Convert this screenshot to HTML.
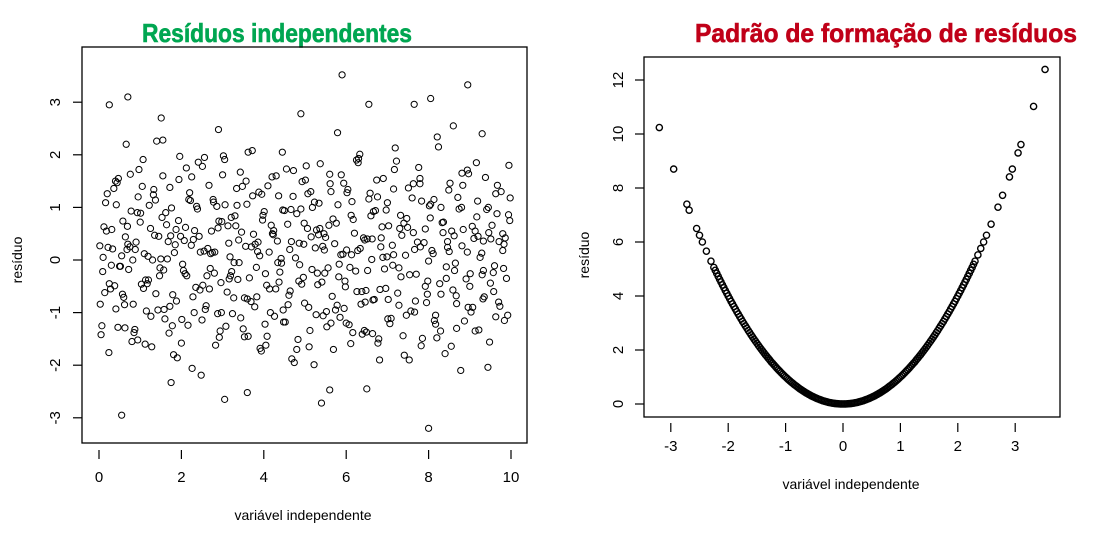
<!DOCTYPE html>
<html><head><meta charset="utf-8"><style>
body{margin:0;background:#fff;width:1106px;height:533px;overflow:hidden}
svg{display:block}
text{font-family:"Liberation Sans",sans-serif}
</style></head><body>
<svg id="c" width="1106" height="533">
<text x="277" y="42" text-anchor="middle" font-size="26" font-weight="bold" fill="#00a651" stroke="#00a651" stroke-width="0.6" textLength="270" lengthAdjust="spacingAndGlyphs">Resíduos independentes</text>
<text x="886" y="42" text-anchor="middle" font-size="26" font-weight="bold" fill="#c00018" stroke="#c00018" stroke-width="0.6" textLength="382" lengthAdjust="spacingAndGlyphs">Padrão de formação de resíduos</text>
</svg>
<script>
const leftX=[0.05,0.12,0.2,0.28,0.33,0.41,0.47,0.55,0.6,0.66,0.72,0.78,0.85,0.9,0.97,1.03,1.1,1.15,1.22,1.28,1.35,1.4,1.47,1.53,1.6,1.66,1.72,1.79,1.85,1.9,1.96,2.03,2.1,2.16,2.22,2.29,2.35,2.41,2.48,2.55,2.6,2.67,2.73,2.8,2.86,2.92,2.98,3.05,3.11,3.18,3.24,3.3,3.37,3.43,3.5,3.56,3.62,3.69,3.75,3.82,3.88,3.94,4.01,4.07,4.13,4.2,4.26,4.33,4.39,4.45,4.52,4.58,4.64,4.71,4.77,4.83,4.9,4.96,5.03,5.09,5.15,5.22,5.28,5.34,5.41,5.47,5.53,5.6,5.66,5.72,5.79,5.85,5.92,5.98,6.04,6.11,6.17,6.23,6.3,6.36,6.42,6.49,6.55,6.62,6.68,6.74,6.81,6.87,6.93,7.0,7.06,7.12,7.19,7.25,7.32,7.38,7.44,7.51,7.57,7.63,7.7,7.76,7.82,7.89,7.95,8.02,8.08,8.14,8.21,8.27,8.33,8.4,8.46,8.52,8.59,8.65,8.71,8.78,8.84,8.91,8.97,9.03,9.1,9.16,9.22,9.29,9.35,9.41,9.48,9.54,9.6,9.67,9.73,9.8,9.86,9.92,
0.02,0.09,0.16,0.24,0.31,0.38,0.44,0.52,0.58,0.63,0.7,0.76,0.83,0.88,0.94,1.01,1.07,1.13,1.19,1.26,1.32,1.38,1.45,1.51,1.57,1.64,1.7,1.76,1.83,1.88,1.94,2.01,2.07,2.13,2.2,2.26,2.32,2.39,2.45,2.51,2.58,2.64,2.7,2.77,2.83,2.89,2.96,3.02,3.08,3.15,3.21,3.27,3.34,3.4,3.46,3.53,3.59,3.65,3.72,3.78,3.85,3.91,3.97,4.04,4.1,4.16,4.23,4.29,4.36,4.42,4.48,4.55,4.61,4.67,4.74,4.8,4.87,4.93,4.99,5.06,5.12,5.18,5.25,5.31,5.37,5.44,5.5,5.56,5.63,5.69,5.76,5.82,5.88,5.95,6.01,6.07,6.14,6.2,6.26,6.33,6.39,6.45,6.52,6.58,6.65,6.71,6.77,6.84,6.9,6.96,7.03,7.09,7.15,7.22,7.28,7.35,7.41,7.47,7.54,7.6,7.66,7.73,7.79,7.85,7.92,7.98,8.05,8.11,8.17,8.24,8.3,8.36,8.43,8.49,8.55,8.62,8.68,8.74,8.81,8.87,8.94,9.0,9.06,9.13,9.19,9.25,9.32,9.38,9.44,9.51,9.57,9.63,9.7,9.76,9.83,9.89,9.95,
0.07,0.18,0.3,0.42,0.57,0.68,0.8,0.93,1.05,1.17,1.3,1.43,1.55,1.68,1.81,1.93,2.05,2.18,2.31,2.43,2.56,2.68,2.81,2.94,3.06,3.19,3.32,3.44,3.57,3.7,3.83,3.95,4.08,4.21,4.34,4.46,4.59,4.72,4.85,4.97,5.1,5.23,5.36,5.48,5.61,5.74,5.87,6.0,6.12,6.25,6.38,6.51,6.64,6.76,6.89,7.02,7.15,7.28,7.4,7.53,7.66,7.79,7.92,8.04,8.17,8.3,8.43,8.56,8.68,8.81,8.94,9.07,9.2,9.33,9.45,9.58,9.71,9.84,9.97,
0.1,0.25,0.4,0.62,0.75,0.95,1.12,1.25,1.48,1.62,1.78,1.98,2.12,2.28,2.46,2.62,2.78,2.97,3.13,3.28,3.48,3.62,3.79,3.98,4.14,4.3,4.47,4.63,4.8,4.98,5.14,5.3,5.46,5.63,5.8,5.97,6.13,6.29,6.46,6.63,6.79,6.97,7.13,7.3,7.46,7.63,7.8,7.97,8.13,8.29,8.46,8.63,8.8,8.96,9.13,9.3,9.46,9.63,9.8,9.94,
0.14,0.36,0.5,0.64,0.87,1.0,1.2,1.37,1.5,1.72,1.87,2.0,2.24,2.37,2.52,2.71,2.88,3.0,3.22,3.39,3.53,3.73,3.9,4.03,4.18,4.37,4.5,4.68,4.86,5.01,5.17,5.33,5.52,5.68,5.83,6.02,6.16,6.34,6.48,6.66,6.85,7.01,7.17,7.33,7.49,7.68,7.83,8.0,8.2,8.35,8.5,8.67,8.83,9.01,9.17,9.33,9.5,9.66,9.82,9.98,
0.03,0.22,0.46,0.69,0.82,1.08,1.33,1.58,1.74,2.09,2.25,2.5,2.75,2.91,3.16,3.35,3.6,3.86,4.05,4.24,4.43,4.66,4.92,5.07,5.27,5.43,5.58,5.78,5.94,6.09,6.28,6.44,6.6,6.82,6.99,7.2,7.37,7.55,7.71,7.87,8.07,8.26,8.41,8.58,8.76,8.93,9.09,9.27,9.43,9.61,9.78,9.91];
const leftY=[-1.42,0.63,1.26,-0.55,0.21,-0.93,1.55,0.08,-0.71,2.2,-0.18,0.93,-1.38,0.34,1.72,-0.46,0.12,-0.97,1.04,-1.65,0.47,2.26,-0.3,0.81,-1.12,0.02,1.38,-0.66,0.29,-1.86,1.97,-0.08,0.62,-1.24,1.13,0.39,-0.52,1.86,-2.19,0.17,-0.87,1.42,0.55,-0.25,1.02,-1.47,0.73,1.91,-0.61,0.06,-1.02,0.84,-0.37,1.67,-1.31,0.26,2.05,-0.79,0.49,-0.14,1.29,-1.73,0.92,-0.48,0.15,1.58,-1.07,0.36,-0.23,2.05,-1.18,0.68,-0.59,1.21,0.04,-1.51,0.97,-0.33,1.79,-0.9,0.44,-1.99,0.57,1.08,-0.42,0.19,-1.27,1.63,-0.69,0.31,2.42,-1.09,0.11,-0.51,1.34,-1.59,0.77,-0.21,1.93,-0.84,0.42,-1.37,1.16,0.01,-0.75,1.52,-1.9,0.63,-0.17,1.09,-1.21,0.28,2.13,-0.63,0.85,-1.44,0.09,1.37,-0.97,0.52,-0.27,1.76,-1.63,0.33,-0.81,1.03,0.18,-1.15,2.34,-0.45,0.71,-1.78,0.24,1.46,-0.57,-0.06,1.19,-2.1,0.58,-0.36,1.64,-0.99,0.41,1.85,-1.33,0.13,-0.7,0.96,-1.56,0.66,-0.11,1.42,-0.88,0.5,
0.42,-1.05,0.27,-0.22,1.09,-1.76,0.58,-0.49,1.47,-0.12,0.74,-1.29,0.3,1.63,-0.84,0.2,-1.52,0.89,1.91,-0.38,0.07,-1.07,1.24,-0.64,0.45,2.7,-0.19,0.67,-1.39,0.99,0.14,-0.78,1.53,-1.13,0.37,-0.3,1.28,-2.06,0.56,0.97,-0.57,1.78,-0.94,0.22,-0.16,1.15,-1.62,0.61,-0.43,1.98,-1.26,0.32,0.81,-0.72,1.36,-0.05,0.53,-1.46,1.06,-0.34,2.08,-0.89,0.16,-1.68,0.76,-0.26,1.41,-1.0,0.48,-0.55,1.22,0.03,-1.18,1.73,-0.67,0.35,-1.95,0.88,-0.09,1.49,-0.82,0.6,-1.34,1.0,0.23,-0.47,1.83,-1.06,0.43,-0.15,1.3,-1.7,0.7,-0.32,1.62,-0.92,0.19,-1.23,1.11,0.51,-0.6,2.01,-1.41,0.38,-0.2,1.27,-0.76,0.94,-1.58,0.25,1.55,-0.54,0.65,-1.11,0.1,1.88,-0.86,0.47,-1.81,0.79,-0.28,1.18,-0.99,0.34,1.45,-1.49,0.59,-0.4,1.06,0.12,-1.22,2.15,-0.65,0.72,-0.13,1.33,-1.64,0.46,-0.83,0.97,0.27,-1.16,1.71,-0.5,0.64,-1.35,1.12,0.05,-0.74,1.57,-2.04,0.4,-0.24,1.26,
-0.8,1.3,0.3,-0.35,1.8,-1.25,0.55,-0.1,1.05,-0.65,0.2,-1.55,0.9,1.4,-0.45,0.0,-0.95,1.6,0.35,-1.8,0.75,-0.2,1.15,-1.0,0.45,1.95,-0.55,0.15,-1.35,1.05,-0.3,0.65,-1.1,1.5,0.25,-0.7,1.25,-1.45,0.5,-0.05,0.95,-0.85,1.7,-0.4,0.3,-1.65,1.1,0.6,-0.25,1.45,-0.95,0.1,-1.2,0.85,1.9,-0.6,0.4,-1.4,1.2,0.05,-0.75,1.35,-0.15,0.7,-1.9,0.2,1.55,-0.5,0.8,-1.05,1.0,-0.35,0.55,-1.3,1.65,0.15,-0.9,0.45,-0.2,
1.0,-0.6,0.35,-1.15,0.75,0.05,-0.45,1.5,-0.85,0.25,1.2,-1.6,0.6,-0.15,0.9,-1.25,0.45,1.75,-0.7,0.15,-0.3,1.1,-1.0,0.65,-0.05,1.4,-1.45,0.3,0.85,-0.55,1.6,-0.95,0.2,-1.7,0.7,1.3,-0.25,0.5,-1.2,1.05,-0.4,0.1,1.85,-0.8,0.4,-1.5,0.95,-0.1,0.6,-1.05,1.45,0.25,-0.65,1.15,-1.35,0.35,-0.2,1.0,-0.9,0.55,
-0.28,0.52,-1.08,0.18,0.86,-0.62,1.36,-0.12,0.44,-1.32,0.72,-0.38,1.14,0.02,-0.88,0.58,-1.58,0.28,1.02,-0.48,0.12,-1.02,1.62,-0.22,0.38,-0.72,1.22,0.08,-1.22,0.66,-0.42,0.94,-1.88,0.32,1.52,-0.18,0.48,-0.98,0.78,-0.08,1.28,-1.38,0.22,-0.58,0.92,0.42,-1.12,1.72,-0.32,0.62,-0.78,1.12,-0.02,-1.48,0.52,0.16,-0.68,1.42,-0.26,0.82,
0.36,-0.44,0.88,-0.16,1.18,-0.84,0.24,-1.28,0.64,0.0,-0.54,1.34,-0.94,0.46,-0.26,1.58,-1.14,0.14,0.74,-0.36,1.04,-0.74,0.34,-1.62,0.56,-0.06,0.96,-0.46,1.26,-1.04,0.26,0.66,-0.86,1.46,-0.14,0.18,-1.34,0.84,-0.56,0.06];
const leftOutX=[0.7,0.25,5.9,8.95,8.05,7.65,6.55,0.55,8.0,5.4,3.05,3.6,5.6,6.5,1.75,1.55,2.9,4.9,8.6,9.3];
const leftOutY=[3.1,2.95,3.52,3.33,3.07,2.96,2.96,-2.95,-3.2,-2.72,-2.65,-2.52,-2.47,-2.45,-2.33,2.28,2.48,2.78,2.55,2.4];
const rightX=[-3.2,-2.95,-2.72,-2.68,-2.55,-2.5,-2.45,-2.38,-2.3,-2.25,-2.2,-2.15,-2.1,-2.05,-2.0,-1.95,-1.9,-1.85,-1.8,-1.75,-1.7,-1.65,-1.6,-1.55,-1.5,-1.45,-1.4,-1.35,-1.3,-1.25,-1.2,-1.15,-1.1,-1.05,-1.0,-0.95,-0.9,-0.85,-0.8,-0.75,-0.7,-0.65,-0.6,-0.55,-0.5,-0.45,-0.4,-0.35,-0.3,-0.25,-0.2,-0.15,-0.1,-0.05,0,0.05,0.1,0.15,0.2,0.25,0.3,0.35,0.4,0.45,0.5,0.55,0.6,0.65,0.7,0.75,0.8,0.85,0.9,0.95,1.0,1.05,1.1,1.15,1.2,1.25,1.3,1.35,1.4,1.45,1.5,1.55,1.6,1.65,1.7,1.75,1.8,1.85,1.9,1.95,2.0,2.05,2.1,2.15,2.2,2.25,2.3,2.35,2.4,2.45,2.5,2.58,2.7,2.78,2.9,2.95,3.05,3.1,3.32,3.52];
const rightY=[10.24,8.7,7.4,7.18,6.5,6.25,6.0,5.66,5.29,5.06,4.84,4.62,4.41,4.2,4.0,3.8,3.61,3.42,3.24,3.06,2.89,2.72,2.56,2.4,2.25,2.1,1.96,1.82,1.69,1.56,1.44,1.32,1.21,1.1,1.0,0.9,0.81,0.72,0.64,0.56,0.49,0.42,0.36,0.3,0.25,0.2,0.16,0.12,0.09,0.06,0.04,0.02,0.01,0.0,0,0.0,0.01,0.02,0.04,0.06,0.09,0.12,0.16,0.2,0.25,0.3,0.36,0.42,0.49,0.56,0.64,0.72,0.81,0.9,1.0,1.1,1.21,1.32,1.44,1.56,1.69,1.82,1.96,2.1,2.25,2.4,2.56,2.72,2.89,3.06,3.24,3.42,3.61,3.8,4.0,4.2,4.41,4.62,4.84,5.06,5.29,5.52,5.76,6.0,6.25,6.66,7.29,7.73,8.41,8.7,9.3,9.61,11.02,12.39];
const rightX2=[-2.225,-2.175,-2.125,-2.075,-2.025,-1.975,-1.925,-1.875,-1.825,-1.775,-1.725,-1.675,-1.625,-1.575,-1.525,-1.475,-1.425,-1.375,-1.325,-1.275,-1.225,-1.175,-1.125,-1.075,-1.025,-0.975,-0.925,-0.875,-0.825,-0.775,-0.725,-0.675,-0.625,-0.575,-0.525,-0.475,-0.425,-0.375,-0.325,-0.275,-0.225,-0.175,-0.125,-0.075,-0.025,0.025,0.075,0.125,0.175,0.225,0.275,0.325,0.375,0.425,0.475,0.525,0.575,0.625,0.675,0.725,0.775,0.825,0.875,0.925,0.975,1.025,1.075,1.125,1.175,1.225,1.275,1.325,1.375,1.425,1.475,1.525,1.575,1.625,1.675,1.725,1.775,1.825,1.875,1.925,1.975,2.025,2.075,2.125,2.175,2.225,2.275];
const rightY2=[4.9506,4.7306,4.5156,4.3056,4.1006,3.9006,3.7056,3.5156,3.3306,3.1506,2.9756,2.8056,2.6406,2.4806,2.3256,2.1756,2.0306,1.8906,1.7556,1.6256,1.5006,1.3806,1.2656,1.1556,1.0506,0.9506,0.8556,0.7656,0.6806,0.6006,0.5256,0.4556,0.3906,0.3306,0.2756,0.2256,0.1806,0.1406,0.1056,0.0756,0.0506,0.0306,0.0156,0.0056,0.0006,0.0006,0.0056,0.0156,0.0306,0.0506,0.0756,0.1056,0.1406,0.1806,0.2256,0.2756,0.3306,0.3906,0.4556,0.5256,0.6006,0.6806,0.7656,0.8556,0.9506,1.0506,1.1556,1.2656,1.3806,1.5006,1.6256,1.7556,1.8906,2.0306,2.1756,2.3256,2.4806,2.6406,2.8056,2.9756,3.1506,3.3306,3.5156,3.7056,3.9006,4.1006,4.3056,4.5156,4.7306,4.9506,5.1756];
const leftXTicks=[0,2,4,6,8,10];
const leftYTicks=[-3,-2,-1,0,1,2,3];
const rightXTicks=[-3,-2,-1,0,1,2,3];
const rightYTicks=[0,2,4,6,8,10,12];

const NS="http://www.w3.org/2000/svg";
const svg=document.getElementById('c');
function mk(tag,attrs,parent){const e=document.createElementNS(NS,tag);for(const k in attrs)e.setAttribute(k,attrs[k]);(parent||svg).appendChild(e);return e;}

function panel(cfg){
  const g=mk('g',{});
  
  
  const sx=v=>cfg.x0+(v-cfg.xa)*cfg.kx;
  const sy=v=>cfg.y0-(v-cfg.ya)*cfg.ky;
  const box=mk('rect',{x:cfg.bx,y:cfg.by,width:cfg.bw,height:cfg.bh,fill:'none',stroke:'#000','stroke-width':1.3},g);
  
  
  const bottom=cfg.by+cfg.bh;
  cfg.xt.forEach(t=>{
    const x=sx(t);
    const tk=mk('line',{x1:x,x2:x,y1:bottom+cfg.tgap,y2:bottom+cfg.tgap+9,stroke:'#000','stroke-width':1.2},g);
    
    
    const lb=mk('text',{x:x,y:cfg.xly,'text-anchor':'middle','font-size':15,fill:'#000'},g);
    lb.textContent=t;
    
    
  });
  cfg.yt.forEach(t=>{
    const y=sy(t);
    const tk=mk('line',{x1:cfg.bx-9,x2:cfg.bx,y1:y,y2:y,stroke:'#000','stroke-width':1.2},g);
    
    
    const lb=mk('text',{x:cfg.ylx,y:y,'text-anchor':'middle','font-size':15,fill:'#000',transform:`rotate(-90 ${cfg.ylx} ${y})`},g);
    lb.textContent=t;
    
    
  });
  const xt=mk('text',{x:cfg.xtx,y:cfg.xty,'text-anchor':'middle','font-size':14,fill:'#000'},g);
  xt.textContent='variável independente';
  
  
  const yt=mk('text',{x:cfg.ytx,y:cfg.yty,'text-anchor':'middle','font-size':14,fill:'#000',transform:`rotate(-90 ${cfg.ytx} ${cfg.yty})`},g);
  yt.textContent='resíduo';
  
  
  cfg.series.forEach(([X,Y])=>{
    const n=Math.min(X.length,Y.length);
    for(let i=0;i<n;i++){
      const c=mk('circle',{cx:sx(X[i]),cy:sy(Y[i]),r:3.1,fill:'none',stroke:'#000','stroke-width':cfg.sw},g);
      
      
    }
  });
}
panel({name:'left-scatter',series:[[leftX,leftY],[leftOutX,leftOutY]],sw:1,xt:leftXTicks,yt:leftYTicks,x0:99,xa:0,kx:41.2,y0:260,ya:0,ky:52.6,
  bx:82,by:47,bw:445,bh:396,tgap:7,xly:482,ylx:60,xtx:303,xty:520,ytx:22,yty:260});
panel({name:'right-scatter',series:[[rightX,rightY],[rightX2,rightY2]],sw:1.4,xt:rightXTicks,yt:rightYTicks,x0:843,xa:0,kx:57.4,y0:404,ya:0,ky:27,
  bx:644,by:57,bw:416,bh:360,tgap:6,xly:451,ylx:623,xtx:851,xty:489,ytx:589,yty:255});
</script>
</body></html>
